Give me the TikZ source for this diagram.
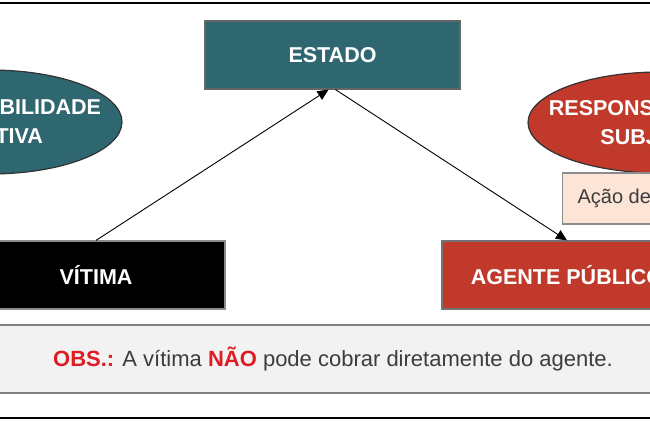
\documentclass[tikz,border=0pt]{standalone}
\usepackage{fontspec}
\setmainfont{Liberation Sans}
\usetikzlibrary{shapes.geometric,arrows.meta,calc}
\definecolor{tealbox}{RGB}{47,103,113}
\definecolor{redbox}{RGB}{192,57,43}
\definecolor{peach}{RGB}{252,229,214}
\definecolor{obsfill}{RGB}{242,242,242}
\definecolor{obsred}{RGB}{222,28,36}
\definecolor{txtgray}{RGB}{60,60,60}
\tikzset{
  boxbase/.style={rectangle, inner sep=0pt, align=center, text=white,
    font=\fontsize{21.5}{29}\selectfont\bfseries, line width=1.2pt},
  elltext/.style={inner sep=0pt, align=center, text=white,
    font=\fontsize{21.5}{29}\selectfont\bfseries},
  ellshape/.style={line width=1.2pt, draw=black!80},
  conn/.style={line width=0.9pt, -{Triangle[length=11pt,width=10pt]}},
}
\begin{document}
\begin{tikzpicture}[x=1pt,y=1pt]
\useasboundingbox (0,0) rectangle (650,421);
\clip (0,0) rectangle (650,421);
\fill[white] (0,0) rectangle (650,421);
% frame lines
\draw[line width=2pt] (0,417.5) -- (650,417.5);
\draw[line width=1.4pt] (0,3) -- (650,3);
% ellipses
\filldraw[ellshape, fill=tealbox] (-10,299) ellipse [x radius=132pt, y radius=52pt];
\node[elltext] (objetiva) at (-10,299) {RESPONSABILIDADE\\OBJETIVA};
\filldraw[ellshape, fill=redbox] (660,298.5) ellipse [x radius=132pt, y radius=50.5pt];
\node[elltext] (subjetiva) at (660,298.5) {RESPONSABILIDADE\\SUBJETIVA};
% boxes
\node[boxbase, fill=tealbox, draw=black!60, minimum width=255pt, minimum height=68pt] (estado) at (332.5,366) {ESTADO};
\node[boxbase, fill=black, draw=black!45, minimum width=258pt, minimum height=68pt] (vitima) at (96,146) {VÍTIMA};
\node[boxbase, fill=redbox, draw=black!55, minimum width=250pt, minimum height=68pt] (agente) at (567,146) {AGENTE PÚBLICO};
\node[rectangle, fill=peach, draw=black!45, line width=1.2pt, inner xsep=15pt, minimum height=51pt, anchor=west, text=txtgray, font=\fontsize{20}{24}\selectfont] (regresso) at (562,222.5) {Ação de regresso};
% observation
\node[rectangle, fill=obsfill, draw=black!50, line width=1.8pt, minimum width=670pt, minimum height=68pt, text=txtgray, font=\fontsize{22}{24}\selectfont] (obs) at (333,62) {\textcolor{obsred}{\bfseries OBS.:} A vítima \textcolor{obsred}{\bfseries NÃO} pode cobrar diretamente do agente.};
% connectors
\coordinate (estL) at ($(estado.south)+(-4,0)$);
\coordinate (estR) at ($(estado.south)+(3,0)$);
\draw[conn] (vitima.north) -- (estL);
\draw[conn] (estR) -- (agente.north);
\end{tikzpicture}
\end{document}
